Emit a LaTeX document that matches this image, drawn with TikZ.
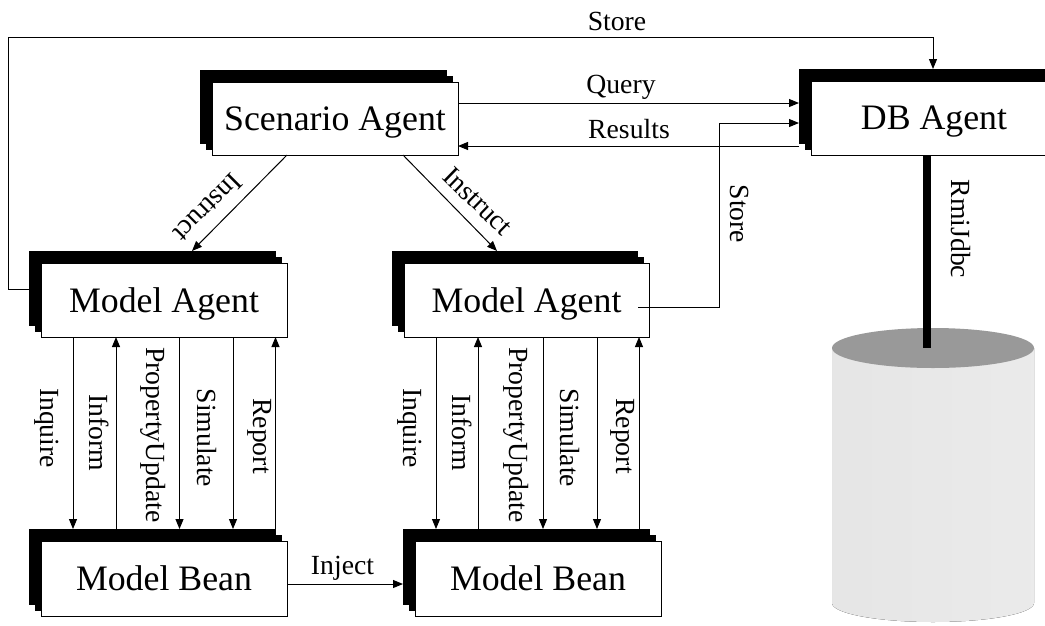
\documentclass[tikz,border=0pt]{standalone}
\usepackage{fontspec}
\setmainfont{Liberation Serif}
\usetikzlibrary{arrows.meta,calc,shadows}
\begin{document}
\begin{tikzpicture}[x=1pt,y=-1pt,
  box/.style={draw=black, fill=white, line width=1pt, minimum width=246pt,
    minimum height=74pt, inner sep=0pt, outer sep=0pt, text depth=0pt,
    font=\fontsize{35.8}{40}\selectfont,
    general shadow={shadow xshift=-12pt, shadow yshift=12pt, fill=black, draw=black},
    general shadow={shadow xshift=-6pt, shadow yshift=6pt, fill=black, draw=black}},
  lbl/.style={inner sep=0pt, font=\fontsize{27.7}{30}\selectfont},
  vlbl/.style={lbl, rotate=-90},
  arr/.style={line width=1pt, -{Triangle[length=10pt,width=8pt]}},
  ln/.style={line width=1pt}]
\useasboundingbox (0,0) rectangle (1045,625);
\clip (0,0) rectangle (1045,625);

% cylinder (database)
\fill[left color=black!10, middle color=black!22, right color=black!8]
  (832,348) -- (832,603) arc[start angle=180, end angle=360, x radius=101pt, y radius=19pt]
  -- (1034,348) -- cycle;
\fill[black!40] (933,348) ellipse [x radius=101pt, y radius=20pt];
\coordinate (cyltop) at (927,348);

% boxes
\node[box, minimum height=73pt] (sa) at (335,118.5) {Scenario Agent};
\node[box] (db) at (934,118) {DB Agent};
\node[box] (ma1) at (164,300) {Model Agent};
\node[box, minimum width=245pt] (ma2) at (526.5,300) {Model Agent};
\node[box, minimum height=75pt] (mb1) at (164,578.5) {Model Bean};
\node[box, minimum height=75pt] (mb2) at (538,578.5) {Model Bean};

% Store (top loop)
\draw[arr] ($(ma1.west)+(-12,-11)$) -| (8,37) -| ($(db.north)+(-1,-12)$);
\node[lbl] (lstore1) at (617,21) {Store};

% Query / Results
\draw[arr] ($(sa.east)+(0,-15.5)$) -- ($(db.west)+(-12,-15)$);
\node[lbl] (lquery) at (621,87) {Query};
\draw[arr] ($(db.west)+(-12,28)$) -- ($(sa.east)+(0,27.5)$);
\node[lbl] (lresults) at (629,129) {Results};

% Store from second model agent
\draw[arr] ($(ma2.east)+(-11,7)$) -| (719,123) -- ($(db.west)+(-12,5)$);
\node[vlbl] (lstore2) at (740,214) {Store};

% RmiJdbc
\draw[line width=7.5pt] ($(db.south)+(-7,0)$) -- (cyltop);
\node[vlbl] (lrmi) at (961,229) {RmiJdbc};

% Instruct
\draw[arr] ($(sa.south)+(-48,0)$) -- ($(ma1.north)+(28,-12)$);
\node[lbl, rotate=225] (linstr1) at (208,208) {Instruct};
\draw[arr] ($(sa.south)+(68,0)$) -- ($(ma2.north)+(-29.5,-12)$);
\node[lbl, rotate=-44] (linstr2) at (478,201) {Instruct};

% Model Agent 1 <-> Model Bean 1
\draw[arr] ($(ma1.south)+(-91,0)$) -- ($(mb1.north)+(-91,-12)$);
\draw[arr] ($(mb1.north)+(-48,-12)$) -- ($(ma1.south)+(-48,0)$);
\draw[arr] ($(ma1.south)+(15.5,0)$) -- ($(mb1.north)+(15.5,-12)$);
\draw[arr] ($(ma1.south)+(69,0)$) -- ($(mb1.north)+(69,-12)$);
\draw[arr] ($(mb1.north)+(111.5,-12)$) -- ($(ma1.south)+(111.5,0)$);
\node[vlbl] (linq1) at (47,428) {Inquire};
\node[vlbl] (linf1) at (99,433) {Inform};
\node[vlbl] (lpu1) at (153,435) {PropertyUpdate};
\node[vlbl] (lsim1) at (207,438) {Simulate};
\node[vlbl] (lrep1) at (260,436) {Report};

% Model Agent 2 <-> Model Bean 2
\draw[arr] ($(ma2.south)+(-90.5,0)$) -- ($(mb2.north)+(-102,-12)$);
\draw[arr] ($(mb2.north)+(-60,-12)$) -- ($(ma2.south)+(-48.5,0)$);
\draw[arr] ($(ma2.south)+(16.5,0)$) -- ($(mb2.north)+(5,-12)$);
\draw[arr] ($(ma2.south)+(70.5,0)$) -- ($(mb2.north)+(59,-12)$);
\draw[arr] ($(mb2.north)+(101,-12)$) -- ($(ma2.south)+(112.5,0)$);
\node[vlbl] (linq2) at (410,428) {Inquire};
\node[vlbl] (linf2) at (462,433) {Inform};
\node[vlbl] (lpu2) at (516,435) {PropertyUpdate};
\node[vlbl] (lsim2) at (570,438) {Simulate};
\node[vlbl] (lrep2) at (623,436) {Report};

% Inject
\draw[arr] ($(mb1.east)+(0,5.5)$) -- ($(mb2.west)+(-12,5.5)$);
\node[lbl] (linject) at (342.5,568) {Inject};
\end{tikzpicture}
\end{document}
